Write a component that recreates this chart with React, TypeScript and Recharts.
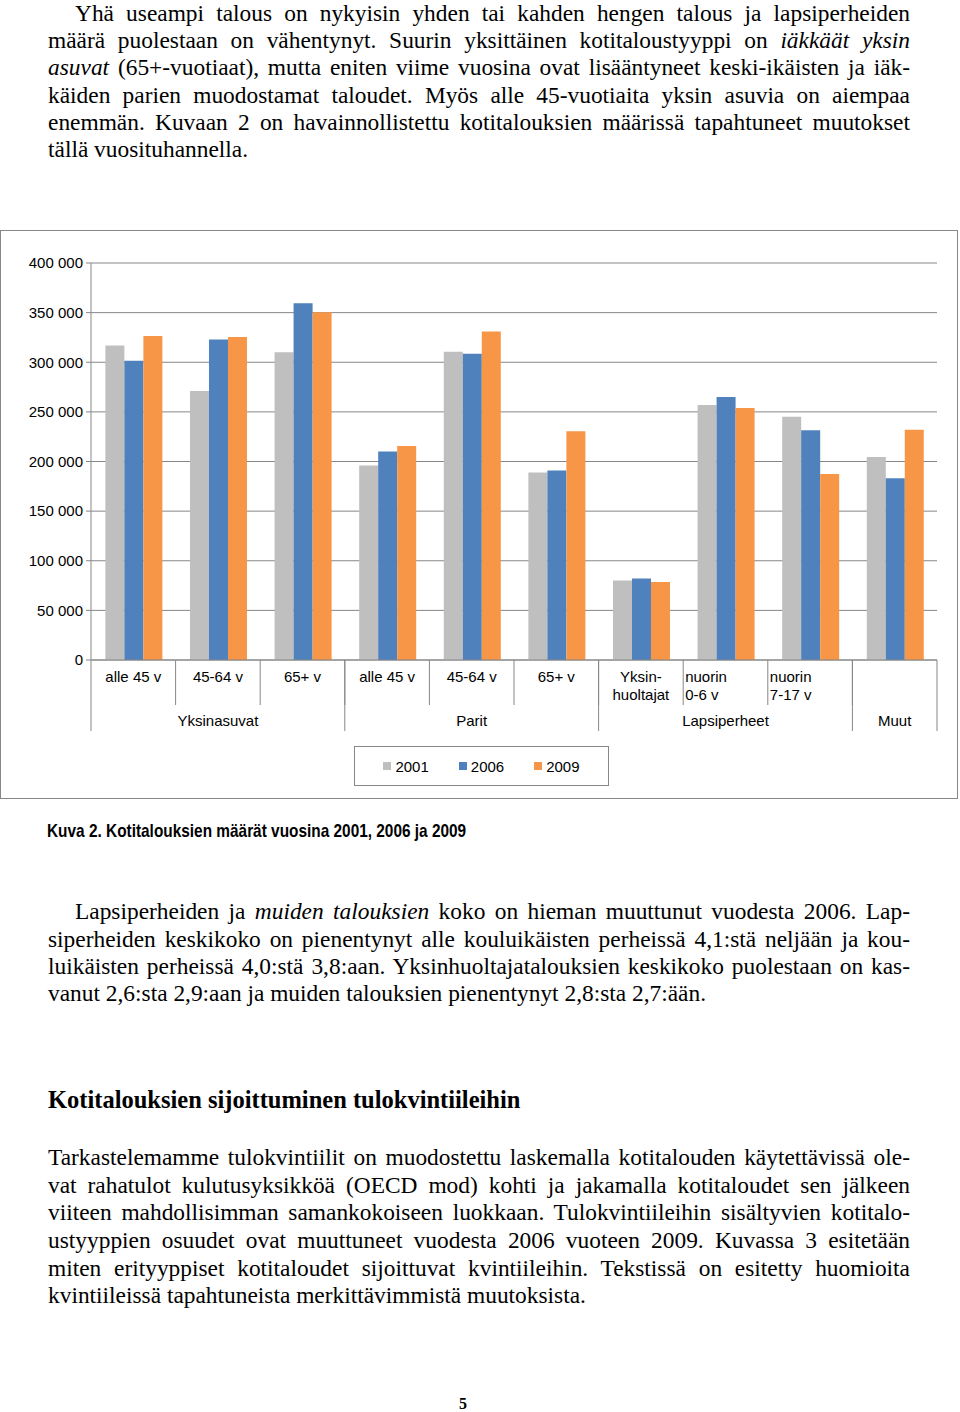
import React from 'react';
import { BarChart, Bar, XAxis, YAxis, CartesianGrid, Legend } from 'recharts';

// chart values
const categories = ['alle 45 v', '45-64 v', '65+ v', 'alle 45 v', '45-64 v', '65+ v', 'Yksin-\nhuoltajat', 'nuorin\n0-6 v', 'nuorin\n7-17 v', ''];
const groups = ['Yksinasuvat', 'Yksinasuvat', 'Yksinasuvat', 'Parit', 'Parit', 'Parit', 'Lapsiperheet', 'Lapsiperheet', 'Lapsiperheet', 'Muut'];
const values2001 = [317000, 271000, 310000, 196000, 310500, 189000, 80000, 257000, 245000, 204500];
const values2006 = [301500, 323000, 359500, 210000, 308500, 191000, 82000, 265000, 231500, 183000];
const values2009 = [326500, 325500, 350500, 215500, 331000, 230500, 78500, 254000, 187500, 232000];
const yTicks = [0, 50000, 100000, 150000, 200000, 250000, 300000, 350000, 400000];

const data = categories.map((label, i) => ({
  label,
  group: groups[i],
  y2001: values2001[i],
  y2006: values2006[i],
  y2009: values2009[i],
}));

const AXIS = '#878787';
const SANS = '"Liberation Sans", Arial, sans-serif';
const SERIF = '"Liberation Serif", "Times New Roman", serif';
const LABEL_SIZE = 15;
const LEFT_ALIGNED = new Set([7, 8]);
const BAND_FALLBACK = 846 / categories.length;

const fmt = (v: number) => String(v).replace(/\B(?=(\d{3})+(?!\d))/g, ' ');

const CategoryTick = (props: any) => {
  const { x, y, payload } = props;
  const index = payload.index ?? props.index;
  const band = payload.offset ? payload.offset * 2 : BAND_FALLBACK;
  const left = x - band / 2;
  const lines = categories[index].split('\n');
  const alignLeft = LEFT_ALIGNED.has(index);
  const tx = alignLeft ? left + 2 : x;
  return (
    <g>
      {index > 0 && <line x1={left} x2={left} y1={y} y2={y + 45} stroke={AXIS} />}
      <text textAnchor={alignLeft ? 'start' : 'middle'} fontFamily={SANS} fontSize={LABEL_SIZE} fill="#000">
        {lines.map((l, k) => (
          <tspan key={k} x={tx} y={y + 22 + k * 18}>{l}</tspan>
        ))}
      </text>
    </g>
  );
};

const GroupTick = (props: any) => {
  const { x, y, payload } = props;
  const index = payload.index ?? props.index;
  const band = payload.offset ? payload.offset * 2 : BAND_FALLBACK;
  const left = x - band / 2;
  const isStart = index === 0 || groups[index - 1] !== groups[index];
  const isLast = index === groups.length - 1;
  let count = 0;
  if (isStart) {
    while (groups[index + count] === groups[index]) count++;
  }
  return (
    <g>
      {isStart && <line x1={left} x2={left} y1={y - 45} y2={y + 26} stroke={AXIS} />}
      {isLast && <line x1={left + band} x2={left + band} y1={y - 45} y2={y + 26} stroke={AXIS} />}
      {isStart && (
        <text x={left + (count * band) / 2} y={y + 21} textAnchor="middle" fontFamily={SANS} fontSize={LABEL_SIZE} fill="#000">
          {groups[index]}
        </text>
      )}
    </g>
  );
};

const renderLegend = (props: any) => {
  const { payload } = props;
  return (
    <div
      style={{
        border: `1px solid ${AXIS}`,
        boxSizing: 'border-box',
        width: 255,
        height: 40,
        display: 'flex',
        alignItems: 'center',
        justifyContent: 'center',
        fontFamily: SANS,
        fontSize: LABEL_SIZE,
        color: '#000',
      }}
    >
      {payload.map((p: any, i: number) => (
        <span key={i} style={{ display: 'flex', alignItems: 'center', marginRight: i < payload.length - 1 ? 30 : 0 }}>
          <span style={{ width: 8, height: 8, background: p.color, marginRight: 4, display: 'inline-block' }} />
          {p.value}
        </span>
      ))}
    </div>
  );
};

const Chart = () => (
  <div style={{ position: 'absolute', left: 0, top: 230, width: 958, height: 569 }}>
    <BarChart width={958} height={569} data={data} margin={{ top: 33, right: 21, bottom: 27, left: 21 }} barGap={0} barCategoryGap="17%">
      <CartesianGrid vertical={false} stroke={AXIS} />
      <XAxis
        dataKey="label"
        interval={0}
        tickLine={false}
        tickSize={0}
        tickMargin={0}
        axisLine={{ stroke: AXIS }}
        height={45}
        tick={(p: any) => <CategoryTick {...p} />}
      />
      <XAxis
        xAxisId="group"
        dataKey="group"
        interval={0}
        tickLine={false}
        tickSize={0}
        tickMargin={0}
        axisLine={false}
        height={27}
        tick={(p: any) => <GroupTick {...p} />}
      />
      <YAxis
        domain={[0, 400000]}
        ticks={yTicks}
        tickFormatter={fmt}
        width={70}
        tickSize={5}
        tickMargin={3}
        axisLine={{ stroke: AXIS }}
        tickLine={{ stroke: AXIS }}
        tick={{ fill: '#000', fontSize: LABEL_SIZE, fontFamily: SANS }}
      />
      <YAxis yAxisId="right" orientation="right" domain={[0, 400000]} width={0} tick={false} tickLine={false} axisLine={{ stroke: AXIS }} />
      <Legend verticalAlign="bottom" content={renderLegend} wrapperStyle={{ left: 354, top: 516, bottom: 'auto', width: 255 }} />
      <Bar dataKey="y2001" name="2001" fill="#BFBFBF" isAnimationActive={false} />
      <Bar dataKey="y2006" name="2006" fill="#4F81BD" isAnimationActive={false} />
      <Bar dataKey="y2009" name="2009" fill="#F79646" isAnimationActive={false} />
    </BarChart>
    <div style={{ position: 'absolute', left: 0, top: 0, width: 958, height: 569, border: `1px solid ${AXIS}`, boxSizing: 'border-box', pointerEvents: 'none' }} />
  </div>
);

const TextLine = ({ children, indent, last }: { children: React.ReactNode; indent?: boolean; last?: boolean }) => (
  <div
    style={{
      paddingLeft: indent ? 27 : 0,
      textAlign: last ? 'left' : 'justify',
      textAlignLast: last ? 'left' : 'justify',
      whiteSpace: 'nowrap',
    }}
  >
    {children}
  </div>
);

const para1: React.ReactNode[] = [
  'Yhä useampi talous on nykyisin yhden tai kahden hengen talous ja lapsiperheiden',
  <>määrä puolestaan on vähentynyt. Suurin yksittäinen kotitaloustyyppi on <i>iäkkäät yksin</i></>,
  <><i>asuvat</i> (65+-vuotiaat), mutta eniten viime vuosina ovat lisääntyneet keski-ikäisten ja iäk-</>,
  'käiden parien muodostamat taloudet. Myös alle 45-vuotiaita yksin asuvia on aiempaa',
  'enemmän. Kuvaan 2 on havainnollistettu kotitalouksien määrissä tapahtuneet muutokset',
  'tällä vuosituhannella.',
];

const para2: React.ReactNode[] = [
  <>Lapsiperheiden ja <i>muiden talouksien</i> koko on hieman muuttunut vuodesta 2006. Lap-</>,
  'siperheiden keskikoko on pienentynyt alle kouluikäisten perheissä 4,1:stä neljään ja kou-',
  'luikäisten perheissä 4,0:stä 3,8:aan. Yksinhuoltajatalouksien keskikoko puolestaan on kas-',
  'vanut 2,6:sta 2,9:aan ja muiden talouksien pienentynyt 2,8:sta 2,7:ään.',
];

const para3: React.ReactNode[] = [
  'Tarkastelemamme tulokvintiilit on muodostettu laskemalla kotitalouden käytettävissä ole-',
  'vat rahatulot kulutusyksikköä (OECD mod) kohti ja jakamalla kotitaloudet sen jälkeen',
  'viiteen mahdollisimman samankokoiseen luokkaan. Tulokvintiileihin sisältyvien kotitalo-',
  'ustyyppien osuudet ovat muuttuneet vuodesta 2006 vuoteen 2009. Kuvassa 3 esitetään',
  'miten erityyppiset kotitaloudet sijoittuvat kvintiileihin. Tekstissä on esitetty huomioita',
  'kvintiileissä tapahtuneista merkittävimmistä muutoksista.',
];

const Paragraph = ({ lines, top, lineHeight, indent }: { lines: React.ReactNode[]; top: number; lineHeight: number; indent: boolean }) => (
  <div style={{ position: 'absolute', left: 48, top, width: 862, fontFamily: SERIF, fontSize: 23.4, lineHeight: `${lineHeight}px`, color: '#000' }}>
    {lines.map((l, i) => (
      <TextLine key={i} indent={indent && i === 0} last={i === lines.length - 1}>
        {l}
      </TextLine>
    ))}
  </div>
);

export default function App() {
  return (
    <div style={{ position: 'absolute', left: 0, top: 0, width: 960, height: 1412, background: '#fff', overflow: 'hidden' }}>
      <Paragraph lines={para1} top={0} lineHeight={27.2} indent />
      <Chart />
      <div
        style={{
          position: 'absolute',
          left: 47,
          top: 820,
          lineHeight: '22px',
          fontFamily: '"Liberation Sans Narrow", "Liberation Sans", Arial, sans-serif',
          fontWeight: 'bold',
          fontSize: 19,
          color: '#000',
          whiteSpace: 'nowrap',
          transform: 'scaleX(0.81)',
          transformOrigin: '0 0',
        }}
      >
        Kuva 2. Kotitalouksien määrät vuosina 2001, 2006 ja 2009
      </div>
      <Paragraph lines={para2} top={898.4} lineHeight={27.3} indent />
      <div style={{ position: 'absolute', left: 48, top: 1085.5, fontFamily: SERIF, fontSize: 24.5, fontWeight: 'bold', lineHeight: '27px', whiteSpace: 'nowrap' }}>
        Kotitalouksien sijoittuminen tulokvintiileihin
      </div>
      <Paragraph lines={para3} top={1144.3} lineHeight={27.6} indent={false} />
      <div style={{ position: 'absolute', left: 443, width: 40, top: 1394, textAlign: 'center', fontFamily: SERIF, fontSize: 16, fontWeight: 'bold', lineHeight: '20px' }}>
        5
      </div>
    </div>
  );
}
